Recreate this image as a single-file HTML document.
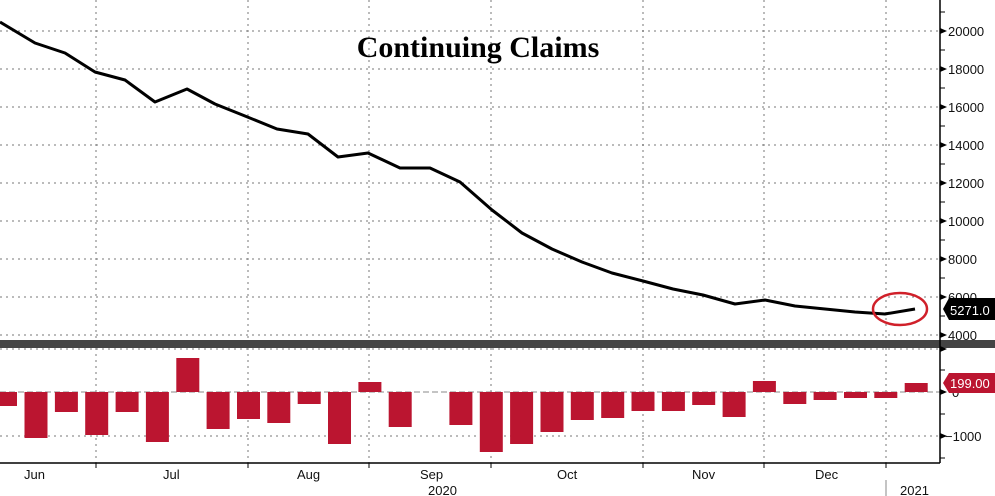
<!DOCTYPE html>
<html><head><style>body{margin:0;background:#fff}svg{display:block}</style></head><body>
<svg width="995" height="496" xmlns="http://www.w3.org/2000/svg" font-family="Liberation Sans, sans-serif">
<rect width="995" height="496" fill="#fff"/>
<g stroke="#777" stroke-width="1" stroke-dasharray="2,4">
<line x1="0" y1="31" x2="940" y2="31"/><line x1="0" y1="69" x2="940" y2="69"/><line x1="0" y1="107" x2="940" y2="107"/><line x1="0" y1="145" x2="940" y2="145"/><line x1="0" y1="183" x2="940" y2="183"/><line x1="0" y1="221" x2="940" y2="221"/><line x1="0" y1="259" x2="940" y2="259"/><line x1="0" y1="297" x2="940" y2="297"/><line x1="0" y1="335" x2="940" y2="335"/>
<line x1="0" y1="349" x2="940" y2="349"/><line x1="0" y1="436" x2="940" y2="436"/>
<line x1="96" y1="0" x2="96" y2="463"/><line x1="248" y1="0" x2="248" y2="463"/><line x1="369" y1="0" x2="369" y2="463"/><line x1="491" y1="0" x2="491" y2="463"/><line x1="643" y1="0" x2="643" y2="463"/><line x1="764" y1="0" x2="764" y2="463"/><line x1="886" y1="0" x2="886" y2="463"/>
</g>
<line x1="0" y1="392" x2="940" y2="392" stroke="#888" stroke-dasharray="6,3"/>
<text x="478" y="57" text-anchor="middle" font-family="Liberation Serif, serif" font-weight="bold" font-size="30">Continuing Claims</text>
<polyline fill="none" stroke="#000" stroke-width="3" stroke-linejoin="round" points="0,22 35,43 65,53 95,72 125,80 155,102 187,89 215,104 245,116 277,129 308,134 338,157 368,153 400,168 430,168 460,182 492,210 522,233 552,249 582,262 612,273 643,281 673,289 703,295 735,304 765,300 795,306 825,309 855,312 885,314 915,309"/>
<ellipse cx="900" cy="309" rx="27" ry="16" fill="none" stroke="#d0202a" stroke-width="2.5"/>
<g fill="#bb1530">
<rect x="-6" y="392" width="23" height="14"/><rect x="24.5" y="392" width="23" height="46"/><rect x="54.9" y="392" width="23" height="20"/><rect x="85.2" y="392" width="23" height="43"/><rect x="115.6" y="392" width="23" height="20"/><rect x="145.9" y="392" width="23" height="50"/><rect x="176.3" y="358" width="23" height="34"/><rect x="206.6" y="392" width="23" height="37"/><rect x="237" y="392" width="23" height="27"/><rect x="267.3" y="392" width="23" height="31"/><rect x="297.7" y="392" width="23" height="12"/><rect x="328" y="392" width="23" height="52"/><rect x="358.4" y="382" width="23" height="10"/><rect x="388.7" y="392" width="23" height="35"/><rect x="449.4" y="392" width="23" height="33"/><rect x="479.8" y="392" width="23" height="60"/><rect x="510.1" y="392" width="23" height="52"/><rect x="540.5" y="392" width="23" height="40"/><rect x="570.8" y="392" width="23" height="28"/><rect x="601.2" y="392" width="23" height="26"/><rect x="631.5" y="392" width="23" height="19"/><rect x="661.9" y="392" width="23" height="19"/><rect x="692.2" y="392" width="23" height="13"/><rect x="722.6" y="392" width="23" height="25"/><rect x="752.9" y="381" width="23" height="11"/><rect x="783.3" y="392" width="23" height="12"/><rect x="813.6" y="392" width="23" height="8"/><rect x="844" y="392" width="23" height="6"/><rect x="874.3" y="392" width="23" height="6"/><rect x="904.7" y="383" width="23" height="9"/>
</g>
<rect x="0" y="340" width="995" height="8" fill="#444"/>
<line x1="940" y1="0" x2="940" y2="463" stroke="#000" stroke-width="1.5"/>
<line x1="0" y1="463" x2="940" y2="463" stroke="#000" stroke-width="1.5"/>
<g stroke="#000"><line x1="96" y1="463" x2="96" y2="468"/><line x1="248" y1="463" x2="248" y2="468"/><line x1="369" y1="463" x2="369" y2="468"/><line x1="491" y1="463" x2="491" y2="468"/><line x1="643" y1="463" x2="643" y2="468"/><line x1="764" y1="463" x2="764" y2="468"/><line x1="886" y1="463" x2="886" y2="468"/><line x1="886" y1="480" x2="886" y2="496" stroke="#888"/>
<line x1="940" y1="12" x2="945" y2="12"/><line x1="940" y1="50" x2="945" y2="50"/><line x1="940" y1="88" x2="945" y2="88"/><line x1="940" y1="126" x2="945" y2="126"/><line x1="940" y1="164" x2="945" y2="164"/><line x1="940" y1="202" x2="945" y2="202"/><line x1="940" y1="240" x2="945" y2="240"/><line x1="940" y1="278" x2="945" y2="278"/><line x1="940" y1="316" x2="945" y2="316"/>
<line x1="940" y1="370" x2="945" y2="370"/><line x1="940" y1="414" x2="945" y2="414"/><line x1="940" y1="458" x2="945" y2="458"/></g>
<g fill="#000"><path d="M940,28 l7,3 l-7,3z"/><path d="M940,66 l7,3 l-7,3z"/><path d="M940,104 l7,3 l-7,3z"/><path d="M940,142 l7,3 l-7,3z"/><path d="M940,180 l7,3 l-7,3z"/><path d="M940,218 l7,3 l-7,3z"/><path d="M940,256 l7,3 l-7,3z"/><path d="M940,294 l7,3 l-7,3z"/><path d="M940,332 l7,3 l-7,3z"/><path d="M940,346 l7,3 l-7,3z"/><path d="M940,389 l7,3 l-7,3z"/><path d="M940,433 l7,3 l-7,3z"/></g>
<g font-size="13" fill="#111">
<text x="948" y="36">20000</text><text x="948" y="74">18000</text><text x="948" y="112">16000</text><text x="948" y="150">14000</text><text x="948" y="188">12000</text><text x="948" y="226">10000</text><text x="948" y="264">8000</text><text x="948" y="302">6000</text><text x="948" y="340">4000</text>
<text x="952" y="397">0</text><text x="945" y="441">−1000</text>
<text x="24" y="479">Jun</text><text x="163" y="479">Jul</text><text x="297" y="479">Aug</text><text x="420" y="479">Sep</text><text x="557" y="479">Oct</text><text x="692" y="479">Nov</text><text x="815" y="479">Dec</text>
<text x="428" y="495">2020</text><text x="900" y="495">2021</text>
</g>
<path d="M943,309 l6,-11 h46 v22 h-46z" fill="#000"/>
<text x="950" y="315" font-size="13" fill="#fff">5271.0</text>
<path d="M943,383 l6,-10 h46 v20 h-46z" fill="#bb1530"/>
<text x="950" y="388" font-size="13" fill="#fff">199.00</text>
</svg>
</body></html>
